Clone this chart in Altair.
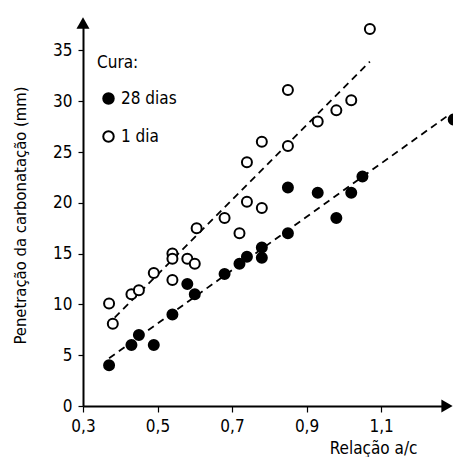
import altair as alt
import pandas as pd

# ---- data ----
x_28 = [0.37, 0.43, 0.45, 0.49, 0.54, 0.58, 0.60, 0.68, 0.72, 0.74, 0.78, 0.78, 0.85, 0.85, 0.93, 0.98, 1.02, 1.05, 1.295]
y_28 = [4.0, 6.0, 7.0, 6.0, 9.0, 12.0, 11.0, 13.0, 14.0, 14.7, 14.6, 15.6, 17.0, 21.5, 21.0, 18.5, 21.0, 22.6, 28.2]

x_1 = [0.37, 0.38, 0.43, 0.45, 0.49, 0.54, 0.54, 0.54, 0.58, 0.60, 0.605, 0.68, 0.72, 0.74, 0.74, 0.78, 0.78, 0.85, 0.85, 0.93, 0.98, 1.02, 1.07]
y_1 = [10.1, 8.1, 11.0, 11.4, 13.1, 15.0, 14.5, 12.4, 14.5, 14.0, 17.5, 18.5, 17.0, 20.1, 24.0, 19.5, 26.0, 25.6, 31.1, 28.0, 29.1, 30.1, 37.1]

fit28_x = [0.37, 1.28]
fit28_y = [4.7, 28.6]
fit1_x = [0.385, 1.07]
fit1_y = [8.7, 33.9]

series = ["28 dias", "1 dia"]
x_ticks = [0.3, 0.5, 0.7, 0.9, 1.1]
y_ticks = [0, 5, 10, 15, 20, 25, 30, 35]
x_domain = [0.3, 1.277]
y_domain = [0, 37.7]

FONT = "DejaVu Sans Condensed, Liberation Sans Narrow, Roboto, sans-serif"

pts = pd.DataFrame(
    {"x": x_28 + x_1, "y": y_28 + y_1,
     "Cura": [series[0]] * len(x_28) + [series[1]] * len(x_1)}
)
fits = pd.DataFrame(
    {"x": fit28_x + fit1_x, "y": fit28_y + fit1_y,
     "g": [series[0]] * 2 + [series[1]] * 2}
)

xs = alt.Scale(domain=x_domain, nice=False, zero=False)
ys = alt.Scale(domain=y_domain, nice=False, zero=False)

x_axis = alt.Axis(
    values=x_ticks,
    labelExpr="replace(format(datum.value, '.1f'), '.', ',')",
    labelFlush=False,
    title="Relação a/c",
    titleX=334, titleY=47, titleAlign="right", titleBaseline="alphabetic",
)
y_axis = alt.Axis(
    values=y_ticks,
    labelFlush=False,
    title="Penetração da carbonatação (mm)",
    titleFontSize=16.5,
    titleX=-63, titleY=192, titleAlign="center", titleBaseline="middle",
)

lines = alt.Chart(fits).mark_line(
    color="black", strokeWidth=1.8, strokeDash=[7, 5]
).encode(
    x=alt.X("x:Q", scale=xs, axis=x_axis),
    y=alt.Y("y:Q", scale=ys, axis=y_axis),
    detail="g:N",
)

points = alt.Chart(pts).mark_point(
    shape="circle", size=100, strokeWidth=2, stroke="black", opacity=1, fillOpacity=1
).encode(
    x=alt.X("x:Q", scale=xs),
    y=alt.Y("y:Q", scale=ys),
    fill=alt.Fill(
        "Cura:N",
        scale=alt.Scale(domain=series, range=["black", "white"]),
        legend=alt.Legend(
            title="Cura:", orient="none", legendX=14, legendY=32,
            symbolType="circle", symbolSize=110, symbolStrokeColor="black",
            symbolStrokeWidth=2, symbolOffset=3, labelOffset=4,
            rowPadding=19, titlePadding=18, padding=0,
        ),
    ),
)

arrows_df = pd.DataFrame(
    {"x": [x_domain[0], x_domain[1]], "y": [y_domain[1], y_domain[0]],
     "s": ["triangle-up", "triangle-right"]}
)
arrows = alt.Chart(arrows_df).mark_point(
    filled=True, color="black", opacity=1, size=170
).encode(
    x=alt.X("x:Q", scale=xs),
    y=alt.Y("y:Q", scale=ys),
    shape=alt.Shape("s:N", scale=None, legend=None),
)

chart = (
    alt.layer(lines, points, arrows)
    .properties(
        width=364, height=383,
        autosize=alt.AutoSizeParams(type="none"),
        padding={"left": 75, "top": 15, "right": 6, "bottom": 51},
    )
    .configure_view(stroke=None)
    .configure_axis(
        grid=False, domainColor="black", domainWidth=2, tickColor="black",
        tickWidth=1.2, tickSize=6, labelFont=FONT, labelFontSize=17,
        labelColor="black", titleFont=FONT, titleFontSize=17,
        titleFontWeight="normal", titleColor="black", labelPadding=6,
    )
    .configure_axisY(tickSize=5, labelPadding=6)
    .configure_legend(
        titleFont=FONT, titleFontSize=17, titleFontWeight="normal",
        titleColor="black", labelFont=FONT, labelFontSize=17, labelColor="black",
    )
)

chart.save("out.html", embed_options={"renderer": "svg", "actions": False})
